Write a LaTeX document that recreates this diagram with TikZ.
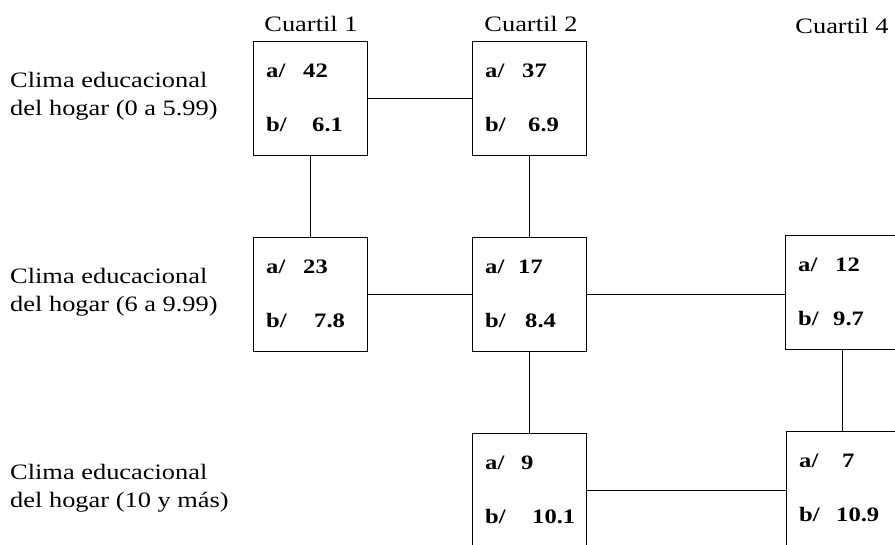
\documentclass[tikz,border=0pt]{standalone}
\usepackage{fontspec}
\setmainfont{Liberation Serif}[FakeStretch=1.2]
\newcommand\cellbox[7]{% name, left, top, anum, aoff, bnum, boff
  \node[cell] (#1) at (#2+57,#3+57) {};
  \node[val] (#1-al) at (#2+13,#3+36) {a/};
  \node[val] (#1-an) at (#2+#5,#3+36) {#4};
  \node[val] (#1-bl) at (#2+13,#3+90) {b/};
  \node[val] (#1-bn) at (#2+#7,#3+90) {#6};
}
\begin{document}
\begin{tikzpicture}[x=1pt,y=-1pt,
  cell/.style={draw, line width=0.9pt, minimum width=114pt, minimum height=114pt, inner sep=0pt},
  link/.style={line width=0.8pt},
  val/.style={anchor=base west, inner sep=0pt, font=\fontsize{20.5}{24}\selectfont\bfseries},
  head/.style={anchor=base, inner sep=0pt, font=\fontsize{22}{29}\selectfont},
  rowlab/.style={anchor=west, inner sep=0pt, align=left, font=\fontsize{22}{28}\selectfont}]
\useasboundingbox (0,0) rectangle (895,544);
\clip (0,0) rectangle (895,544);
% column headers
\node[head] (h1) at (311,31) {Cuartil 1};
\node[head] (h2) at (531,31) {Cuartil 2};
\node[head] (h4) at (842,33) {Cuartil 4};
% row labels
\node[rowlab] (l1) at (10,96) {Clima educacional\\del hogar (0 a 5.99)};
\node[rowlab] (l2) at (10,292) {Clima educacional\\del hogar (6 a 9.99)};
\node[rowlab] (l3) at (10,488) {Clima educacional\\del hogar (10 y más)};
% cells
\cellbox{r1c1}{253}{41}{42}{50}{6.1}{59}
\cellbox{r1c2}{472}{41}{37}{50}{6.9}{56}
\cellbox{r2c1}{253}{237}{23}{50}{7.8}{61}
\cellbox{r2c2}{472}{237}{17}{46}{8.4}{53}
\cellbox{r2c4}{785}{235}{12}{50}{9.7}{48}
\cellbox{r3c2}{472}{433}{9}{49}{10.1}{60}
\cellbox{r3c4}{786}{431}{7}{56}{10.9}{50}
% connectors
\draw[link] (r1c1.east) -- (r1c2.west);
\draw[link] (r1c1.south) -- (r2c1.north);
\draw[link] (r1c2.south) -- (r2c2.north);
\draw[link] (r2c1.east) -- (r2c2.west);
\draw[link] (r2c2.east) -- (r2c2.east -| r2c4.west);
\draw[link] (r2c2.south) -- (r2c2.south |- r3c2.north);
\draw[link] (r2c4.south) -- (r2c4.south |- r3c4.north);
\draw[link] (r3c2.east) -- (r3c2.east -| r3c4.west);
\end{tikzpicture}
\end{document}
